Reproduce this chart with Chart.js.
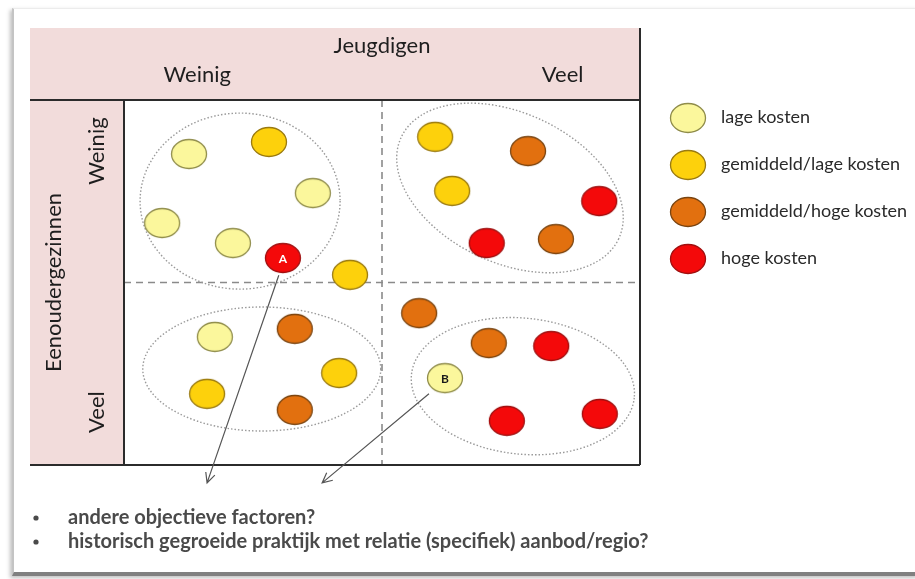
<!DOCTYPE html>
<html>
<head>
<meta charset="utf-8">
<script src="https://cdn.jsdelivr.net/npm/chart.js@4.4.1/dist/chart.umd.min.js"></script>
<style>
  html, body { margin: 0; padding: 0; background: #fff; }
  #kaart {
    position: absolute; left: 12px; top: 8px; width: 905px; height: 563px;
    border-left: 2px solid #c4c4c4; border-top: 1px solid #ececec; border-bottom: 4px solid #808080;
    box-shadow: -2px 2px 4px rgba(0,0,0,0.25);
    background: #fff;
  }
  #wrap { position: absolute; left: 0; top: 0; width: 915px; height: 579px; }
</style>
</head>
<body>
<div id="kaart"></div>
<div id="wrap"><canvas id="grafiek" width="915" height="579"></canvas></div>
<script>
// kostenklassen (legenda)
const kosten = ["lage kosten", "gemiddeld/lage kosten", "gemiddeld/hoge kosten", "hoge kosten"];
const kleuren = ["#fbf79c", "#fdd10c", "#e2700f", "#f4090a"];
const randKleuren = ["#8f8c4a", "#9a7a10", "#7a4410", "#a01010"];

// punten: x = jeugdigen (0-10), y = eenoudergezinnen (10 = weinig, 0 = veel)
const puntX = [1.26, 2.81, 3.66, 0.74, 2.11, 3.08, 4.38,
               6.03, 7.83, 6.36, 9.21, 7.03, 8.37,
               1.76, 3.31, 4.17, 1.61, 3.31,
               5.72, 7.07, 8.28, 6.22, 7.42, 9.22];
const puntY = [8.52, 8.85, 7.45, 6.63, 6.08, 5.67, 5.21,
               8.99, 8.60, 7.51, 7.23, 6.08, 6.19,
               3.51, 3.73, 2.52, 1.95, 1.51,
               4.16, 3.34, 3.26, 2.38, 1.21, 1.40];
const puntKlasse = [0, 1, 0, 0, 0, 3, 1,
                    1, 2, 1, 3, 3, 2,
                    0, 2, 1, 1, 2,
                    2, 2, 3, 0, 3, 3];
const puntLabel = ["", "", "", "", "", "A", "",
                   "", "", "", "", "", "",
                   "", "", "", "", "",
                   "", "", "", "B", "", ""];

// groepen (stippel-ellipsen): middelpunt in data-eenheden, straal in px, rotatie in graden
const groepX = [2.25, 7.48, 2.67, 7.73];
const groepY = [7.23, 7.59, 2.63, 2.16];
const groepRx = [100, 120, 119, 112];
const groepRy = [88, 75, 62, 68];
const groepRot = [0, 25, 0, 6];

// pijlen van A en B naar de vragen onderaan
const pijlVan = [[3.0, 5.2], [5.91, 1.95]];
const pijlNaar = [[1.61, -0.49], [3.84, -0.49]];

const kopTekst = "Jeugdigen";
const asLabels = ["Weinig", "Veel"];
const zijTekst = "Eenoudergezinnen";
const vragen = ["andere objectieve factoren?", "historisch gegroeide praktijk met relatie (specifiek) aanbod/regio?"];

const FONT = "Lato, 'Open Sans', sans-serif";

function maakBol(kleur, rand) {
  const c = document.createElement("canvas");
  c.width = 38; c.height = 32;
  const g = c.getContext("2d");
  g.beginPath();
  g.ellipse(19, 16, 17.5, 14.5, 0, 0, Math.PI * 2);
  g.fillStyle = kleur;
  g.fill();
  g.lineWidth = 1.3;
  g.strokeStyle = rand;
  g.stroke();
  return c;
}
const bollen = kosten.map((_, i) => maakBol(kleuren[i], randKleuren[i]));

const datasets = kosten.map((naam, k) => ({
  label: naam,
  data: puntX.map((x, i) => ({ x, y: puntY[i], klasse: puntKlasse[i], label: puntLabel[i] }))
             .filter(p => p.klasse === k),
  pointStyle: bollen[k],
  backgroundColor: kleuren[k],
  borderColor: randKleuren[k]
}));

const achtergrond = {
  id: "achtergrond",
  beforeDraw(chart) {
    const { ctx, chartArea: ca, scales: { x, y } } = chart;
    const links = 30, boven = 28;
    ctx.save();
    // roze banden
    ctx.fillStyle = "#f2dcdb";
    ctx.fillRect(links, boven, ca.right - links, ca.top - boven);
    ctx.fillRect(links, ca.top, ca.left - links, ca.bottom - ca.top);
    // stippellijnen kwadranten
    ctx.strokeStyle = "#8a8a8a";
    ctx.lineWidth = 1.6;
    ctx.setLineDash([7, 5]);
    ctx.beginPath();
    ctx.moveTo(x.getPixelForValue(5), ca.top);
    ctx.lineTo(x.getPixelForValue(5), ca.bottom);
    ctx.moveTo(ca.left, y.getPixelForValue(5));
    ctx.lineTo(ca.right, y.getPixelForValue(5));
    ctx.stroke();
    ctx.setLineDash([]);
    // kaderlijnen
    ctx.strokeStyle = "#2b2b2b";
    ctx.lineWidth = 2;
    ctx.beginPath();
    ctx.moveTo(links, ca.top); ctx.lineTo(ca.right, ca.top);
    ctx.moveTo(links, ca.bottom); ctx.lineTo(ca.right, ca.bottom);
    ctx.moveTo(ca.left, ca.top); ctx.lineTo(ca.left, ca.bottom);
    ctx.moveTo(ca.right, boven); ctx.lineTo(ca.right, ca.bottom);
    ctx.stroke();
    // teksten
    ctx.fillStyle = "#1e1e1e";
    ctx.textAlign = "center";
    ctx.textBaseline = "middle";
    ctx.font = "22px " + FONT;
    ctx.fillText(kopTekst, x.getPixelForValue(5), 46);
    ctx.fillText(asLabels[0], x.getPixelForValue(1.42), 75);
    ctx.fillText(asLabels[1], x.getPixelForValue(8.5), 75);
    const kwart = (a, b, t, cx) => {
      ctx.save();
      ctx.translate(cx, (a + b) / 2);
      ctx.rotate(-Math.PI / 2);
      ctx.fillText(t, 0, 0);
      ctx.restore();
    };
    kwart(y.getPixelForValue(8.6), y.getPixelForValue(8.6), asLabels[0], 97);
    kwart(y.getPixelForValue(1.45), y.getPixelForValue(1.45), asLabels[1], 97);
    kwart(ca.top, ca.bottom, zijTekst, 54);
    // ellipsen
    ctx.strokeStyle = "#9a9a9a";
    ctx.lineWidth = 1.4;
    ctx.setLineDash([1.5, 2]);
    groepX.forEach((gx, i) => {
      ctx.beginPath();
      ctx.ellipse(x.getPixelForValue(gx), y.getPixelForValue(groepY[i]), groepRx[i], groepRy[i],
        groepRot[i] * Math.PI / 180, 0, Math.PI * 2);
      ctx.stroke();
    });
    ctx.setLineDash([]);
    ctx.restore();
  },
  afterDatasetsDraw(chart) {
    const { ctx, chartArea: ca, scales: { x, y } } = chart;
    ctx.save();
    // letters A en B
    ctx.textAlign = "center";
    ctx.textBaseline = "middle";
    ctx.font = "bold 12px " + FONT;
    chart.data.datasets.forEach((ds, d) => {
      chart.getDatasetMeta(d).data.forEach((el, i) => {
        const p = ds.data[i];
        if (!p.label) return;
        ctx.fillStyle = p.klasse === 3 ? "#ffffff" : "#1a1a1a";
        ctx.fillText(p.label, el.x, el.y + 1);
      });
    });
    // pijlen
    ctx.strokeStyle = "#555";
    ctx.lineWidth = 1.2;
    pijlVan.forEach((van, i) => {
      const x1 = x.getPixelForValue(van[0]), y1 = y.getPixelForValue(van[1]);
      const x2 = x.getPixelForValue(pijlNaar[i][0]), y2 = y.getPixelForValue(pijlNaar[i][1]);
      const hoek = Math.atan2(y2 - y1, x2 - x1);
      ctx.beginPath();
      ctx.moveTo(x1, y1); ctx.lineTo(x2, y2);
      ctx.moveTo(x2 - 11 * Math.cos(hoek - 0.45), y2 - 11 * Math.sin(hoek - 0.45));
      ctx.lineTo(x2, y2);
      ctx.lineTo(x2 - 11 * Math.cos(hoek + 0.45), y2 - 11 * Math.sin(hoek + 0.45));
      ctx.stroke();
    });
    // legenda
    ctx.textAlign = "left";
    ctx.font = "18px " + FONT;
    kosten.forEach((naam, k) => {
      const ly = ca.top + 18 + k * 47;
      ctx.drawImage(bollen[k], ca.right + 48 - 19, ly - 16);
      ctx.fillStyle = "#2a2a2a";
      ctx.fillText(naam, ca.right + 81, ly - 1);
    });
    // vragen onderaan
    ctx.font = "bold 20px " + FONT;
    vragen.forEach((v, i) => {
      const vy = 518 + i * 24;
      ctx.fillStyle = "#4a4a4a";
      ctx.beginPath();
      ctx.arc(36, vy, 2.6, 0, Math.PI * 2);
      ctx.fill();
      ctx.fillText(v, 68, vy);
    });
    ctx.restore();
  }
};

new Chart(document.getElementById("grafiek"), {
  type: "scatter",
  data: { datasets },
  options: {
    responsive: false,
    animation: false,
    layout: { padding: { left: 124, right: 275, top: 100, bottom: 114 } },
    scales: {
      x: { type: "linear", min: 0, max: 10, display: false },
      y: { type: "linear", min: 0, max: 10, display: false }
    },
    plugins: { legend: { display: false }, tooltip: { enabled: false } }
  },
  plugins: [achtergrond]
});
</script>
</body>
</html>
